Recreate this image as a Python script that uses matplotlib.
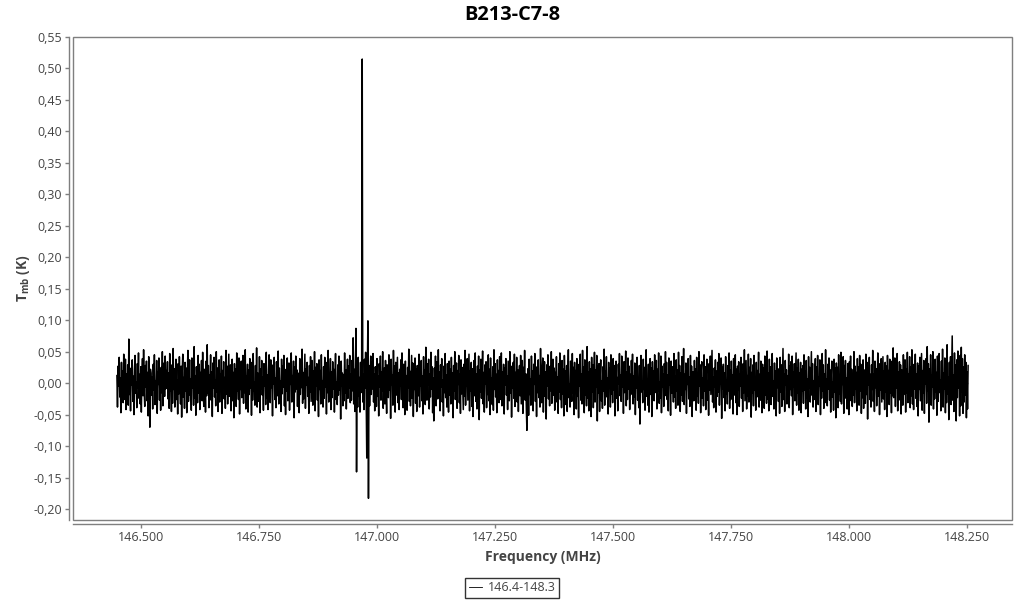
"""plot.py
B213-C7-8 spectrum, Tmb vs frequency."""

import numpy as np
import matplotlib
matplotlib.use("Agg")
import matplotlib.pyplot as plt
from matplotlib.patches import Rectangle
from matplotlib.ticker import FuncFormatter, MultipleLocator

plt.rcParams["font.family"] = ["Open Sans", "DejaVu Sans"]
plt.rcParams["mathtext.fontset"] = "custom"
plt.rcParams["mathtext.rm"] = "Open Sans"
plt.rcParams["mathtext.bf"] = "Open Sans:bold"

# --------------------------------------------------
# Data (Tmb in mK)
# --------------------------------------------------

TITLE = "B213-C7-8"
SERIES_NAME = "146.4-148.3"

F_START = 146.449   # MHz, first channel
F_STOP = 148.252    # MHz, last channel

# channels before the line
tmb_left = [
    12, -38, 27, -5, 41, -22, 8, -47, 33, -14, 19, -31, 46, 3, -26, 38, -42, 15, -9, 29,
    -35, 70, -18, 6, -44, 24, -3, 37, -29, 11, -50, 21, 44, -16, 2, -39, 31, -8, 48, -24,
    14, -33, 26, -46, 9, 39, -20, 53, -12, -37, 28, -6, 35, -28, 17, -52, 42, -1, -70, 22,
    16, -19, 10, -41, 30, -11, 45, -34, 4, -23, 36, -48, 18, -2, 40, -27, 13, -43, 25, -15,
    50, -36, 7, 32, -21, 43, -9, 20, -7, 34, -25, 16, -40, 47, -13, 1, -45, 29, -32, 55,
    -10, 23, -38, 11, 38, -26, 5, -49, 31, -17, 42, -4, -33, 27, -54, 19, 46, -22, 9, -40,
    33, -12, 24, -47, 14, 52, -29, -3, 37, -19, 6, -43, 40, -8, 21, -35, 58, -24, 12, -51,
    26, 3, -31, 44, -16, 30, -42, 17, -6, 36, -28, 49, -11, -37, 22, 8, -46, 35, -20, 61,
    -15, 28, -39, 13, -2, 45, -27, 18, -53, 32, -8, 41, -22, 5, -36, 50, -14, 24, -45, 10,
    37, -30, 15, -11, 43, -48, 20, -1, 34, -25, 9, -40, 52, -17, 27, -33, 3, 46, -21, -6,
    29, -44, 12, 38, -28, 17, -55, 31, -4, 22, -37, 48, -13, 6, -26, 40, -49, 19, -10, 35,
    -23, 7, 44, -32, 25, -15, 53, -41, 11, -3, 30, -46, 21, -18, 39, -8, 14, -51, 33, -27,
    47, -12, 2, -35, 28, -22, 56, -38, 16, 4, -29, 42, -47, 23, -9, 36, -19, 10, -43, 31,
    -5, 25, -34, 49, -24, 13, -42, 20, 45, -16, -31, 37, -7, 18, -52, 29, -1, 41, -26, 8,
    -39, 34, 11, -20, 51, -33, 24, -11, 3, -45, 38, -17, 27, -6, 44, -36, 15, -50, 22, -13,
    40, -28, 6, 32, -43, 19, -2, 48, -30, 12, -22, 35, -55, 26, -14, 43, -9, 21, -37, 16,
    1, -47, 39, -18, 30, -7, 54, -32, 17, -25, 10, 46, -40, 23, -3, 33, -21, 9, -48, 28,
    -14, 42, -29, 7, 36, -35, 19, -12, 50, -44, 25, -4, 31, -27, 14, -53, 37, -10, 20, -33,
    45, -18, 4, -38, 26, -24, 41, -6, 15, -49, 33, -15, 52, -30, 8, -2, 39, -42, 18, -23,
    34, -9, 22, -46, 11, 47, -26, 2, -34, 29, -19, 43, -11, 24, -57, 35, -5, 16, -36, 13,
    -28, 48, -16, 21, -41, 6, 38, -24, 27, -8, 44, -31,
]

# channels around the line at ~146.97 MHz
tmb_line = [
    15, -27, 36, -12, 72, -33, 22, -45, 30, 87, -141, 18, -38, 41, -20, 9, -46, 33,
    -15, 25, 515, -30, 14, -42, 38, -8, 49, -25, -119, 20, 99, -183, 28, -36, 11, 43,
]

# channels after the line
tmb_right = [
    -18, 34, -9, 47, -30, 15, -44, 26, 2, -37, 39, -21, 11, -52, 31, -6, 43, -27, 18, -13,
    50, -40, 7, 24, -33, 36, -15, -48, 29, 4, -23, 45, -11, 20, -56, 38, -2, 13, -35, 52,
    -8, 27, -46, 33, -19, 9, 41, -31, 16, -42, 22, -5, 37, -26, 48, -14, -39, 30, 1, -50,
    35, -17, 12, -43, 25, -7, 54, -29, 19, -36, 6, 44, -24, 32, -53, 14, -10, 40, -32, 23,
    -45, 28, 3, -20, 46, -38, 17, -4, 36, -28, 11, -49, 42, -16, 21, -34, 57, -12, -27, 31,
    -3, 38, -41, 15, -22, 49, -9, 26, -47, 8, -60, 24, -18, 43, -36, 10, 34, -25, 53, -11,
    18, -44, 29, -6, 39, -30, 5, -52, 27, -15, 47, -23, 13, -38, 31, 0, -46, 35, -19, 22,
    -33, 41, -8, 16, -55, 28, -13, 50, -26, 7, 32, -40, 20, -2, 44, -31, 14, -48, 37, -17,
    25, -9, -42, 30, -21, 52, -35, 9, -4, 39, -27, 12, 46, -44, 19, -12, 33, -37, 23, -53,
    4, 36, -20, 48, -29, 15, -41, 27, -7, 43, -58, 21, -14, 38, -24, 6, 51, -33, 17, -46,
    29, -1, 34, -39, 10, -18, 45, -28, 22, -50, 40, -15, 8, -34, 26, -43, 53, -10, 31, -22,
    14, -47, 37, -5, 20, -31, 42, -26, 3, 48, -36, 18, -12, 30, -49, 24, -3, 39, -19, 11,
    -42, 35, 6, -28, 50, -16, 27, -54, 13, -8, 33, -24, 46, -37, 17, -11, 41, -30, 21, -45,
    9, 28, -20, 44, -33, 2, 36, -48, 25, -6, 52, -27, 15, -40, -75, -13, 23, -51, 38, -18,
    7, -35, 43, -9, 19, -44, 30, -2, 47, -29, 16, -53, 26, -15, 37, -23, 12, -38, 55, -10,
    -31, 22, 40, -46, 5, 34, -21, 18, -57, 29, -4, 45, -25, 13, -36, 27, -12, 50, -32, 8,
    38, -19, 24, -43, 17, -7, 42, -30, 10, -48, 31, -14, 48, -26, 3, -39, 36, -17, 22, -52,
    44, -8, 19, -34, 28, -45, 14, 53, -23, -2, -38, 35, 6, -29, 47, -16, 25, -50, 33, -11,
    20, -41, 39, -21, 11, -55, 30, -5, 46, -27, 15, -33, 52, -12, 26, -47, 37, -19, 8, -36,
    58, -24, 18, -44, 34, -9, 23, -53, 41, -14, 29, -39, 12, 49, -30, 21, -6, 44, -60, 27,
    -16, 31, -45, 10, 37, -28, 4, -40, 26, -13, 54, -35, 19, -3, 42, -22, 8, -49, 33, -7,
    24, -38, 45, -17, 2, -31, 39, -11, 28, -52, 16, 35, -24, 9, -44, 30, -1, 47, -20, 13,
    -29, 43, -6, 21, -48, 34, -15, 5, 51, -36, 18, -26, 40, -9, 27, -42, 14, -18, 36, -3,
    46, -33, 11, -22, 32, -50, 23, -8, 41, -27, 7, -39, 28, -65, 20, 44, -14, 3, -31, 38,
    -10, 25, -43, 17, 53, -21, 6, -35, 30, -46, 12, 39, -18, 24, -53, 34, -4, 19, -28, 45,
    -15, 8, 36, -41, 22, -12, 48, -32, 1, -24, 43, -47, 27, -6, 15, -37, 31, -20, 50, -9,
    33, -26, 13, -44, 40, -3, 20, -51, 35, -16, 26, 5, -30, 47, -22, 11, -40, 37, -12, 21,
    -35, 49, -7, 28, -45, 16, -19, 42, -29, 6, 55, -34, 14, -10, 32, -48, 24, -2, 39, -25,
    10, -37, 44, -15, 27, -53, 18, 3, -28, 36, -8, 23, -43, 41, -20, 12, -32, 50, -5, 29,
    -47, 20, 34, -24, 8, -36, 45, -13, 26, -42, 15, 38, -27, 4, -51, 31, -11, 43, -18, 17,
    52, -30, 9, -39, 24, -6, 37, -46, 19, -21, 33, -14, 47, -35, 11, -1, 40, -56, 25, -9,
    30, -23, 16, -44, 42, -17, 5, -33, 28, -12, 48, -40, 21, -26, 35, -4, 13, -49, 39, -19,
    7, 45, -31, 22, -50, 27, -10, 34, -37, 15, -5, 41, -24, 18, -45, 31, -15, 53, -28, 2,
    36, -41, 12, -20, 46, -30, 25, -8, 39, -54, 17, -16, 29, -36, 44, -11, 6, -43, 33, -22,
    20, -6, 49, -38, 14, -27, 35, 1, -47, 30, -13, 24, -40, 43, -19, 9, -32, 51, -25, 16,
    -44, 38, -9, 26, -34, 11, 47, -21, 3, -41, 32, -17, 19, -52, 40, -7, 23, -29, 14, -48,
    41, -14, 29, -37, 8, 55, -26, 15, -45, 36, -3, 21, -33, 12, -22, 46, -39, 27, -10, 34,
    -20, 43, -50, 18, -6, 31, -28, 9, 48, -35, 24, -15, 38, -43, 16, -2, 33, -47, 22, -12,
    28, -32, 45, -11, 19, -41, 36, -23, 6, -53, 42, -8, 25, -30, 13, 50, -19, 31, -38, 4,
    -26, 17, 39, -45, 26, -16, 44, -34, 10, -4, 37, -50, 20, -24, 47, -12, 29, -40, 15, -31,
    53, -18, 7, -36, 30, -9, 40, -27, 21, -46, 14, 35, -22, 2, -43, 38, -14, 24, -55, 32,
    -7, 25, -39, 45, -17, 11, -29, 49, -33, 19, -2, 42, -48, 28, -13, 36, -24, 8, -41, 31,
    16, -50, 34, -6, 43, -28, 22, -37, 12, -19, 50, -31, 27, -9, 17, -44, 39, -15, 26, -35,
    44, -12, 30, -48, 9, -23, 37, -40, 21, 5, -32, 46, -18, 33, -57, 24, -3, 41, -26, 14,
    -38, 29, -10, 52, -29, 15, -45, 35, -7, 23, -36, 11, 48, -21, 31, -50, 18, -11, 39, -30,
    6, 42, -25, 19, -42, 33, -14, 27, -53, 44, -4, 20, -34, 38, -16, 10, -47, 35, -20, 56,
    -23, 13, 40, -37, 25, -8, 47, -44, 18, -27, 34, -12, 29, -49, 21, 3, -35, 45, -18, 9,
    37, -46, 22, -15, 49, -31, 14, -5, 42, -39, 26, -20, 53, -33, 11, -42, 30, -9, 46, -24,
    15, -37, 32, -52, 27, -10, 41, -28, 8, 47, -43, 20, -16, 36, -48, 24, -1, 39, -32, 58,
    -12, 31, -62, 23, -19, 45, -35, 12, -6, 50, -41, 28, -25, 38, -14, 17, -51, 43, -29, 21,
    47, -15, 5, -44, 35, -22, 54, -38, 16, -9, 40, -47, 26, -31, 61, -17, 9, -58, 33, -20,
    42, -34, 19, 75, -27, 13, -45, 48, -11, 29, -60, 37, -23, 51, -8, 24, -52, 44, -36, 57,
    -14, 39, -48, 26, -30, 45, -19, 33, -55, 18, -41, 28,
]

tmb = np.array(tmb_left + tmb_line + tmb_right) / 1000.0
freq = np.linspace(F_START, F_STOP, len(tmb))

# --------------------------------------------------
# Plot
# --------------------------------------------------

GRAY = "#7f7f7f"
TEXT = "#444444"

fig = plt.figure(figsize=(10.24, 6), dpi=100)
ax = fig.add_axes([0.0713, 0.1333, 0.9170, 0.8050])

ax.hlines(0, freq[0], freq[-1], color="#9a9a9a", lw=1, zorder=1)
ax.plot(freq, tmb, color="black", lw=1.1, label=SERIES_NAME, zorder=2)

ax.set_xlim(146.356, 148.345)
ax.set_ylim(-0.2175, 0.55)

ax.xaxis.set_major_locator(MultipleLocator(0.25))
ax.yaxis.set_major_locator(MultipleLocator(0.05))
ax.xaxis.set_major_formatter(FuncFormatter(lambda v, p: f"{v:.3f}"))
ax.yaxis.set_major_formatter(
    FuncFormatter(lambda v, p: f"{v:.2f}".replace(".", ",").replace("−", "-"))
)

# frame + offset axis lines
for side in ["top", "right"]:
    ax.spines[side].set_visible(False)
for side in ["left", "bottom"]:
    ax.spines[side].set_position(("outward", 2.9))
    ax.spines[side].set_color(GRAY)
    ax.spines[side].set_linewidth(1)
ax.add_patch(Rectangle((0, 0), 1, 1, transform=ax.transAxes, fill=False,
                       ec=GRAY, lw=1, clip_on=False, zorder=5))

ax.tick_params(axis="both", length=3, width=1, color=GRAY,
               labelcolor=TEXT, labelsize=9, pad=2)

ax.set_xlabel("Frequency (MHz)", fontsize=10, fontweight="bold", color=TEXT)
ax.xaxis.set_label_coords(0.5, -0.0766)
ax.xaxis.label.set_va("center")
ax.set_ylabel(r"$\mathbf{T}_{\mathbf{mb}}$ (K)", fontsize=10,
              fontweight="bold", color=TEXT)
ax.yaxis.set_label_coords(-0.0525, 0.5)
ax.yaxis.label.set_va("center")

fig.text(0.5, 0.975, TITLE, fontsize=14.4, fontweight="bold",
         ha="center", va="center")

leg = fig.legend(loc="lower center", bbox_to_anchor=(0.5, 0.003),
                 fontsize=9, frameon=True, fancybox=False,
                 handlelength=1.1, handletextpad=0.4, borderpad=0.3,
                 borderaxespad=0)
leg.get_frame().set_edgecolor("black")
leg.get_frame().set_linewidth(1)
for t in leg.get_texts():
    t.set_color(TEXT)
for h in leg.get_lines():
    h.set_linewidth(0.6)

fig.savefig("out.png", dpi=100)
plt.close(fig)
